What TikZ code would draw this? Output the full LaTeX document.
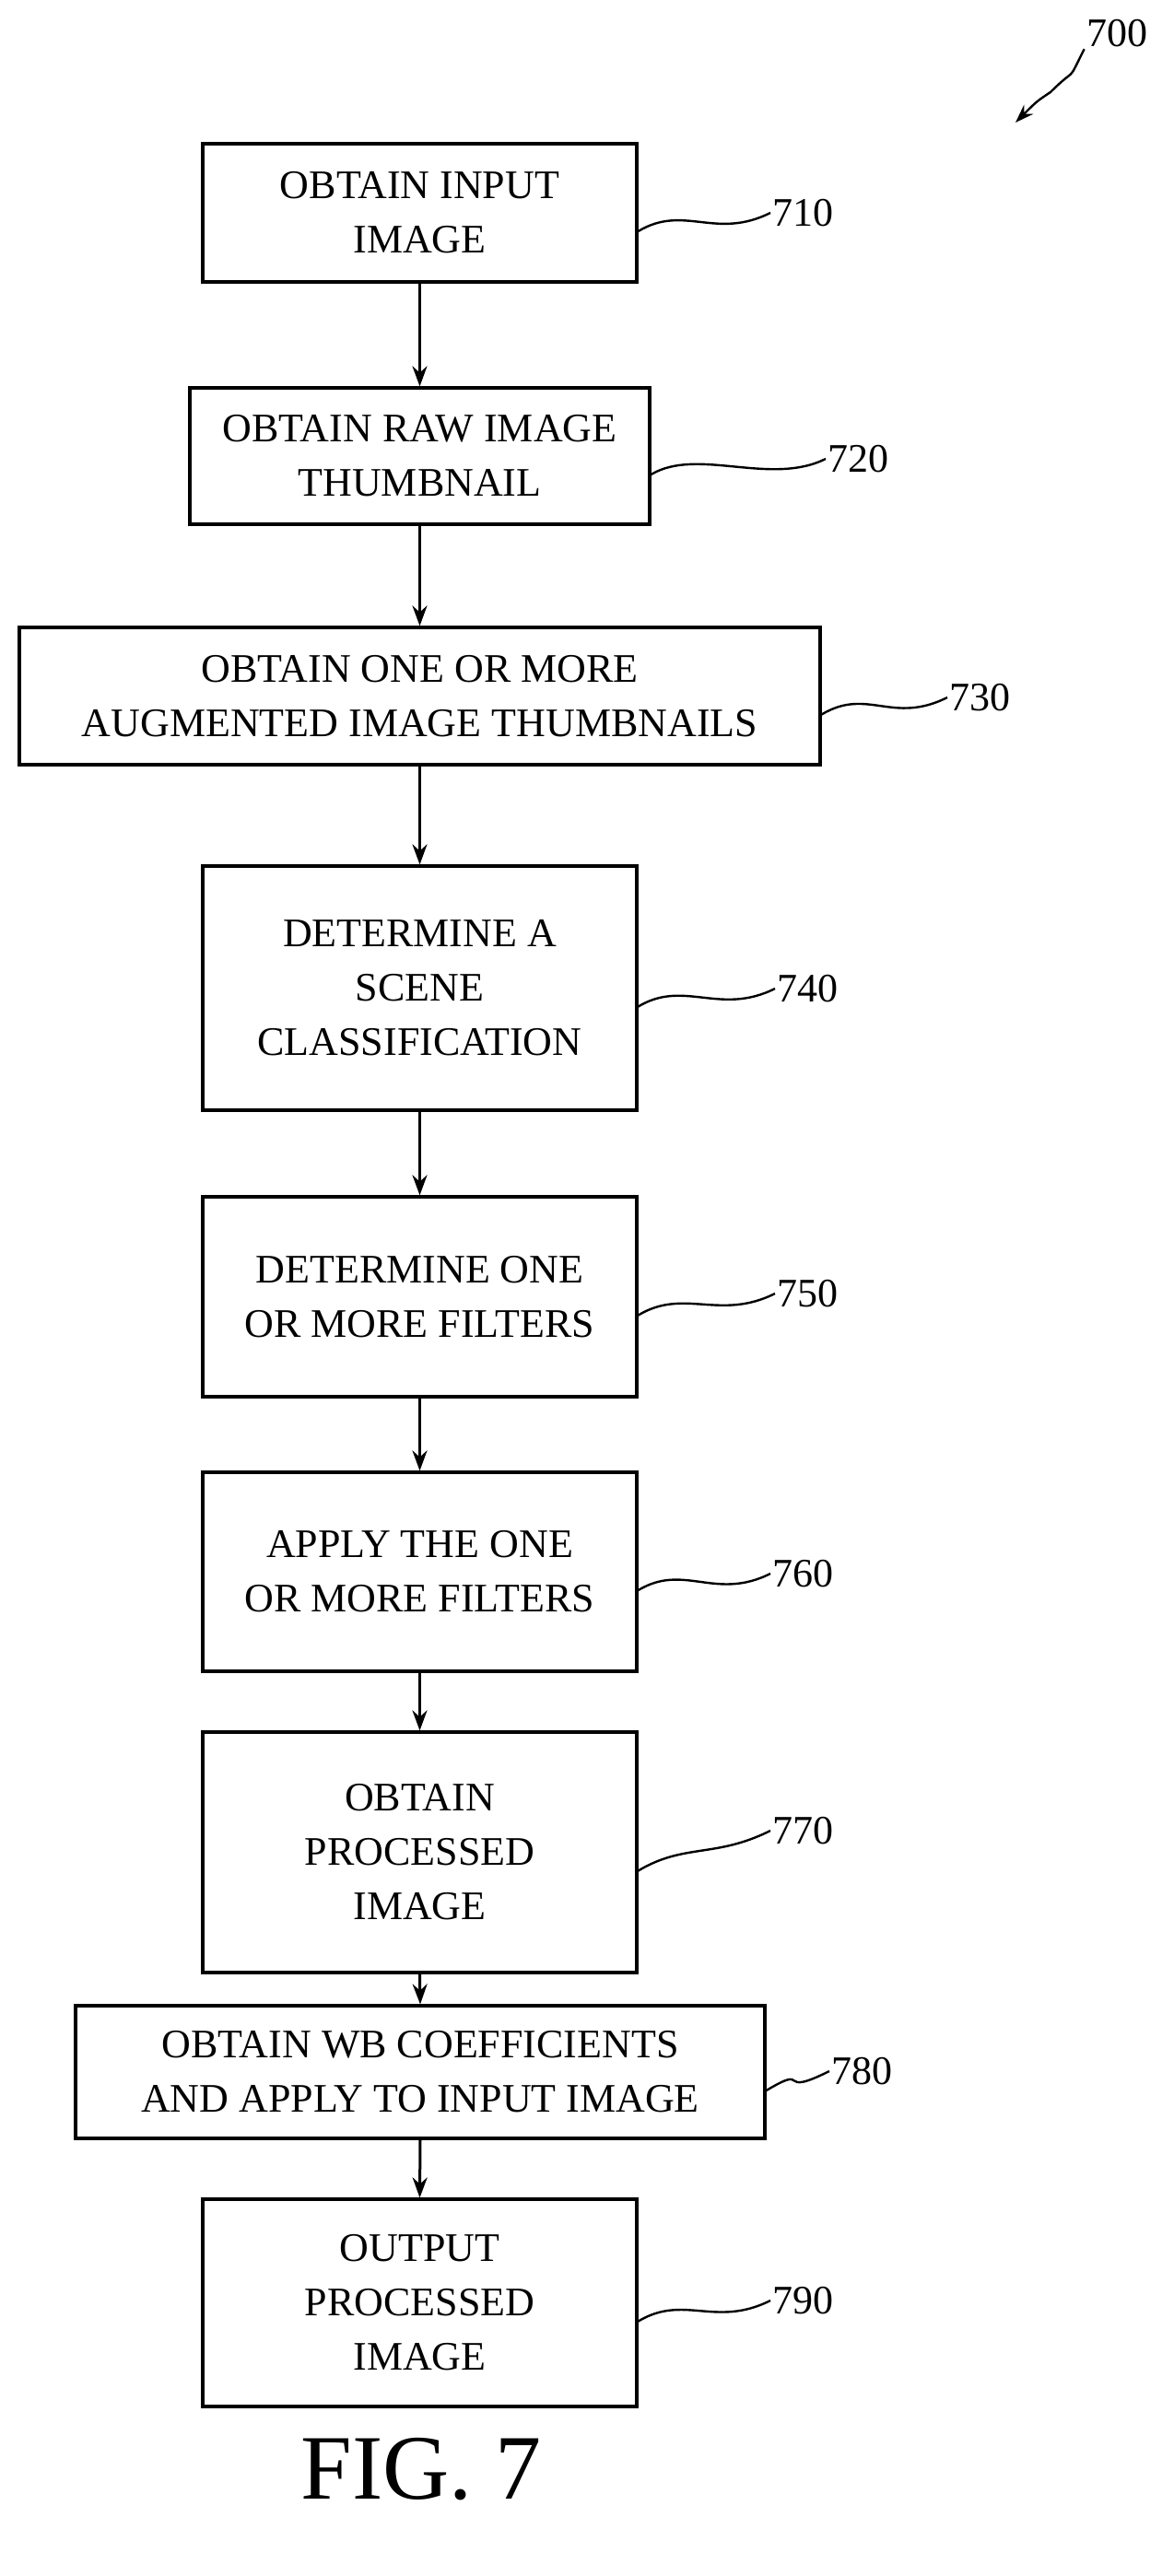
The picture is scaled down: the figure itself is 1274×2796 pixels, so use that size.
\documentclass[tikz,border=0pt]{standalone}
\usepackage{fontspec}
\setmainfont{Liberation Serif}
\usetikzlibrary{arrows.meta}
\begin{document}
\begin{tikzpicture}[x=0.5pt,y=-0.5pt,
 box/.style={draw,line width=1.6pt,inner sep=0pt,align=center,font=\fontsize{22}{29.5}\selectfont,minimum width=235.5pt},
 lab/.style={font=\fontsize{22}{26}\selectfont,inner sep=1pt,anchor=west},
 arr/.style={line width=1.5pt,-{Stealth[length=11pt,width=8pt]}},
 lead/.style={line width=1.2pt}]
\useasboundingbox (0,0) rectangle (1274,2796);
\node[box,minimum height=75pt] (b1) at (455.5,231) {OBTAIN INPUT\\IMAGE};
\node[box,minimum width=249.5pt,minimum height=74pt] (b2) at (455.5,495) {OBTAIN RAW IMAGE\\THUMBNAIL};
\node[box,minimum width=434.5pt,minimum height=74.5pt] (b3) at (455.5,755.5) {OBTAIN ONE OR MORE\\AUGMENTED IMAGE THUMBNAILS};
\node[box,minimum height=132.5pt] (b4) at (455.5,1072.5) {DETERMINE A\\SCENE\\CLASSIFICATION};
\node[box,minimum height=108.5pt] (b5) at (455.5,1407.5) {DETERMINE ONE\\OR MORE FILTERS};
\node[box,minimum height=108pt] (b6) at (455.5,1706) {APPLY THE ONE\\OR MORE FILTERS};
\node[box,minimum height=130.5pt] (b7) at (455.5,2010.5) {OBTAIN\\PROCESSED\\IMAGE};
\node[box,minimum width=374pt,minimum height=72pt] (b8) at (456,2249) {OBTAIN WB COEFFICIENTS\\AND APPLY TO INPUT IMAGE};
\node[box,minimum height=112.5pt] (b9) at (455.5,2499.5) {OUTPUT\\PROCESSED\\IMAGE};
\foreach \a/\b in {b1/b2,b2/b3,b3/b4,b4/b5,b5/b6,b6/b7,b7/b8,b8/b9}
  \draw[arr] (\a.south) -- (\b.north);
\node[lab] (l1) at (836,231) {710};
\node[lab] (l2) at (896,498) {720};
\node[lab] (l3) at (1028,757) {730};
\node[lab] (l4) at (841,1073) {740};
\node[lab] (l5) at (841,1404) {750};
\node[lab] (l6) at (836,1708) {760};
\node[lab] (l7) at (836,1987) {770};
\node[lab] (l8) at (900,2248) {780};
\node[lab] (l9) at (836,2497) {790};
\foreach \b/\l in {b1/l1,b2/l2,b3/l3,b4/l4,b5/l5,b6/l6,b7/l7,b8/l8,b9/l9}
  \draw[lead] ([yshift=-10pt]\b.east) .. controls +(50,-30) and +(-60,30) .. (\l.west);
\node[lab,anchor=center] (l0) at (1212,36) {700};
\coordinate (t0) at (1102,133);
\draw[line width=1.2pt,-{Stealth[length=10pt,width=7pt]}] (l0.south west) .. controls +(-20,40) and +(30,-30) .. (1140,100) .. controls +(-15,10) .. (t0);
\node[font=\fontsize{50}{55}\selectfont] (fig) at (457,2680) {FIG. 7};
\end{tikzpicture}
\end{document}
